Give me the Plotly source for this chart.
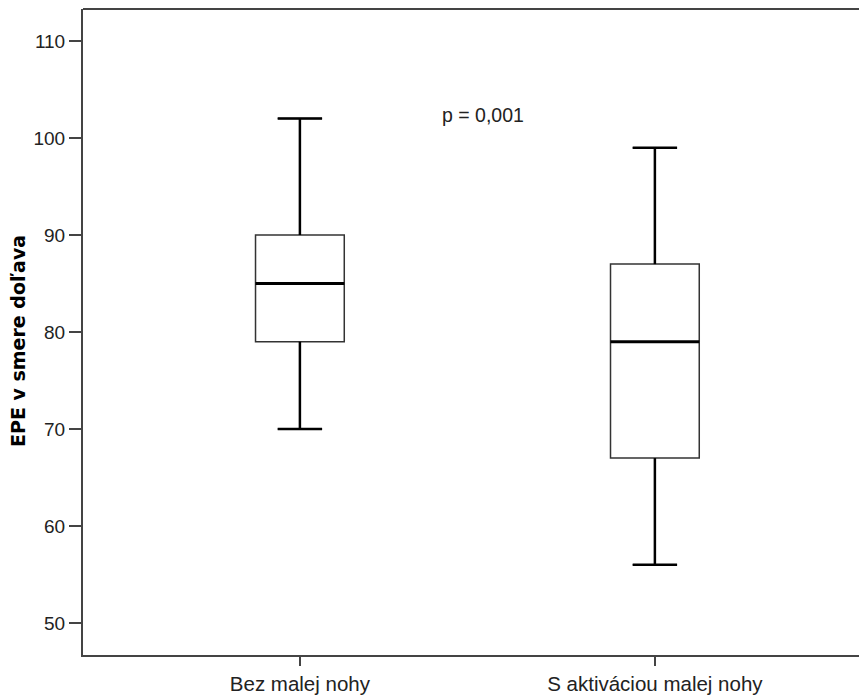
import plotly.graph_objects as go

categories = ["Bez malej nohy", "S aktiváciou malej nohy"]
q1 = [79, 67]
median = [85, 79]
q3 = [90, 87]
lower_whisker = [70, 56]
upper_whisker = [102, 99]
y_ticks = [50, 60, 70, 80, 90, 100, 110]
p_text = "p = 0,001"
y_title = "EPE v smere doľava"

BOX_W = 0.25
CAP_W = BOX_W * 0.5
FONT = "Liberation Sans, Arial, sans-serif"

fig = go.Figure()
for i, name in enumerate(categories):
    fig.add_trace(go.Box(
        x=[i], q1=[q1[i]], median=[median[i]], q3=[q3[i]],
        lowerfence=[lower_whisker[i]], upperfence=[upper_whisker[i]],
        width=BOX_W, whiskerwidth=0.5,
        fillcolor="white", line=dict(color="#333333", width=1.5),
        boxpoints=False, showlegend=False, hoverinfo="skip",
    ))
    # thicker whiskers and caps
    xs = [i, i, None, i, i, None,
          i - CAP_W / 2, i + CAP_W / 2, None, i - CAP_W / 2, i + CAP_W / 2]
    ys = [q3[i], upper_whisker[i], None, q1[i], lower_whisker[i], None,
          upper_whisker[i], upper_whisker[i], None, lower_whisker[i], lower_whisker[i]]
    fig.add_trace(go.Scatter(x=xs, y=ys, mode="lines",
                             line=dict(color="black", width=2.5),
                             showlegend=False, hoverinfo="skip"))
    # thick median
    fig.add_trace(go.Scatter(x=[i - BOX_W / 2, i + BOX_W / 2], y=[median[i], median[i]],
                             mode="lines", line=dict(color="black", width=3),
                             showlegend=False, hoverinfo="skip"))

fig.add_annotation(x=0.515, y=102.4, text=p_text, showarrow=False,
                   font=dict(family=FONT, size=19.5, color="#222222"))

# y-axis title as rotated annotation
fig.add_annotation(xref="paper", yref="paper", x=-0.0838, y=0.486,
                   text="<b>" + y_title + "</b>", textangle=-90, showarrow=False,
                   xanchor="center", yanchor="middle",
                   font=dict(family="DejaVu Sans, sans-serif", size=19, color="black"))

# top frame line (chart border)
fig.add_shape(type="line", xref="paper", yref="paper", x0=0, x1=1.2, y0=1, y1=1,
              line=dict(color="#444444", width=2))

fig.update_layout(
    width=859, height=695,
    margin=dict(l=83, r=0, t=9, b=40),
    plot_bgcolor="white", paper_bgcolor="white",
    font=dict(family=FONT, size=18, color="#222222"),
)
fig.update_xaxes(
    range=[-0.611, 1.575], tickvals=[0, 1], ticktext=categories,
    showline=True, linecolor="#444444", linewidth=2,
    ticks="outside", ticklen=9, tickwidth=2, tickcolor="#444444",
    showgrid=False, zeroline=False,
    tickfont=dict(family=FONT, size=20.5, color="#222222"),
)
fig.update_yaxes(
    range=[46.7, 113.3], tickvals=y_ticks,
    showline=True, linecolor="#444444", linewidth=2,
    ticks="outside", ticklen=12, tickwidth=2, tickcolor="#444444",
    showgrid=False, zeroline=False,
    tickfont=dict(family=FONT, size=19, color="#222222"),
)

fig.write_html(
    "out.html",
    config={"displayModeBar": False},
    post_script="document.body.style.margin='0';document.body.style.overflow='hidden';",
)
